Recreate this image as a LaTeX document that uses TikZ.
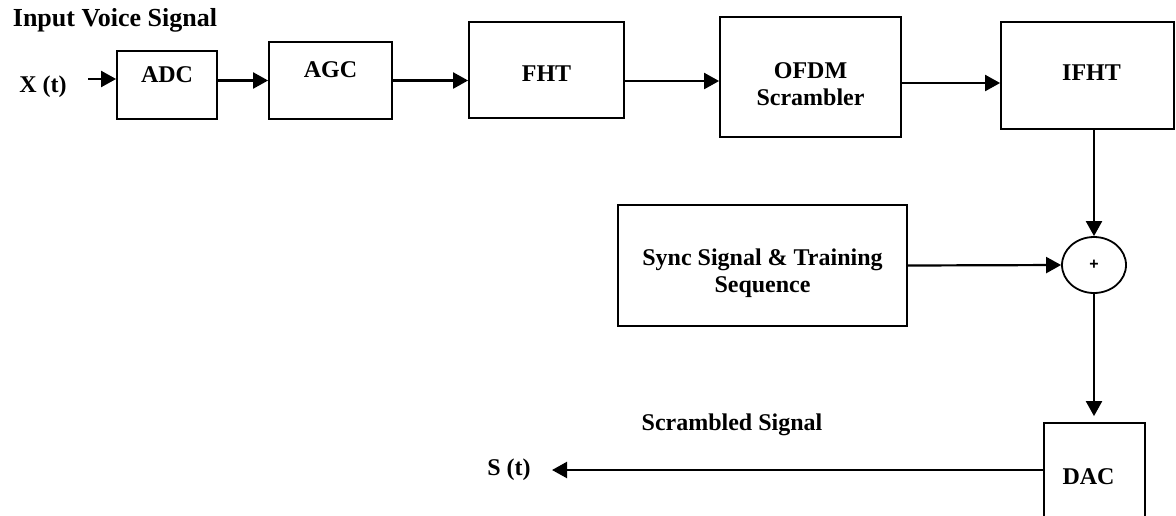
\documentclass[tikz,border=0pt]{standalone}
\usepackage{fontspec}
\setmainfont{Liberation Serif}
\newfontfamily\plusfont{Liberation Sans}
\usetikzlibrary{arrows.meta,shapes.geometric}

\begin{document}
\begin{tikzpicture}[x=0.5pt, y=-0.5pt,
		blockbox/.style={draw, line width=0.9pt, inner sep=0pt},
		boxtext/.style={font=\bfseries\fontsize{12}{13.5}\selectfont, align=center},
		sigtext/.style={font=\bfseries\fontsize{12}{13.5}\selectfont},
		sumnode/.style={draw, ellipse, line width=0.9pt, inner sep=0pt, minimum width=32pt, minimum height=28pt, font=\plusfont\bfseries\fontsize{8}{9}\selectfont},
		sig/.style={-{Triangle[length=7.5pt, width=8pt]}, line width=1.1pt}]
		\useasboundingbox (0,0) rectangle (1176,515);
		\clip (0,0) rectangle (1176,515);
		% processing chain
		\node[blockbox, minimum width=50pt, minimum height=34pt, label={[boxtext, yshift=5pt]center:ADC}] (adc) at (167,85) {};
		\node[blockbox, minimum width=61.5pt, minimum height=38.5pt, label={[boxtext, yshift=5.25pt]center:AGC}] (agc) at (330.5,80.5) {};
		\node[blockbox, minimum width=77.5pt, minimum height=48pt, label={[boxtext, yshift=-2pt]center:FHT}] (fht) at (546.5,70) {};
		\node[blockbox, minimum width=90.5pt, minimum height=60pt, label={[boxtext, yshift=-3.5pt]center:OFDM\\Scrambler}] (ofdm) at (810.5,77) {};
		\node[blockbox, minimum width=86.5pt, minimum height=53.5pt, label={[boxtext, yshift=1.25pt, xshift=2pt]center:IFHT}] (ifht) at (1087.5,75.5) {};
		\node[blockbox, minimum width=144.5pt, minimum height=60.5pt, label={[boxtext, yshift=-4pt]center:Sync Signal \& Training\\Sequence}] (sync) at (762.5,265.5) {};
		\node[sumnode] (plus) at (1094,265) {+};
		\node[blockbox, minimum width=50.5pt, minimum height=58.5pt, label={[boxtext, yshift=2.25pt, xshift=-3pt]center:DAC}] (dac) at (1094.5,481.5) {};
		% signal labels
		\node[sigtext, font=\bfseries\fontsize{13}{15}\selectfont] (inlabel) at (115,20) {Input Voice Signal};
		\node[sigtext] (xt) at (43,87) {X (t)};
		\node[sigtext] (st) at (509,470) {S (t)};
		\node[sigtext] (outlabel) at (732,425) {Scrambled Signal};
		\coordinate (xin) at (88,79);
		\coordinate (sout) at (552,470);
		% connectors
		\draw[sig] (xin) -- (xin -| adc.west);
		\draw[sig] (adc.east |- agc.west) -- (agc.west);
		\draw[sig] (agc.east) -- (agc.east -| fht.west);
		\draw[sig] ([yshift=-5.5pt]fht.east) -- ([yshift=-5.5pt]fht.east -| ofdm.west);
		\draw[sig] ([yshift=-3pt]ofdm.east) -- ([yshift=-3pt]ofdm.east -| ifht.west);
		\draw[sig] (plus.north |- ifht.south) -- (plus.north);
		\draw[sig] (sync.east) -- (plus.west);
		\draw[sig, shorten >=3pt] (plus.south) -- (plus.south |- dac.north);
		\draw[sig] (dac.west |- sout) -- (sout);
\end{tikzpicture}
\end{document}
